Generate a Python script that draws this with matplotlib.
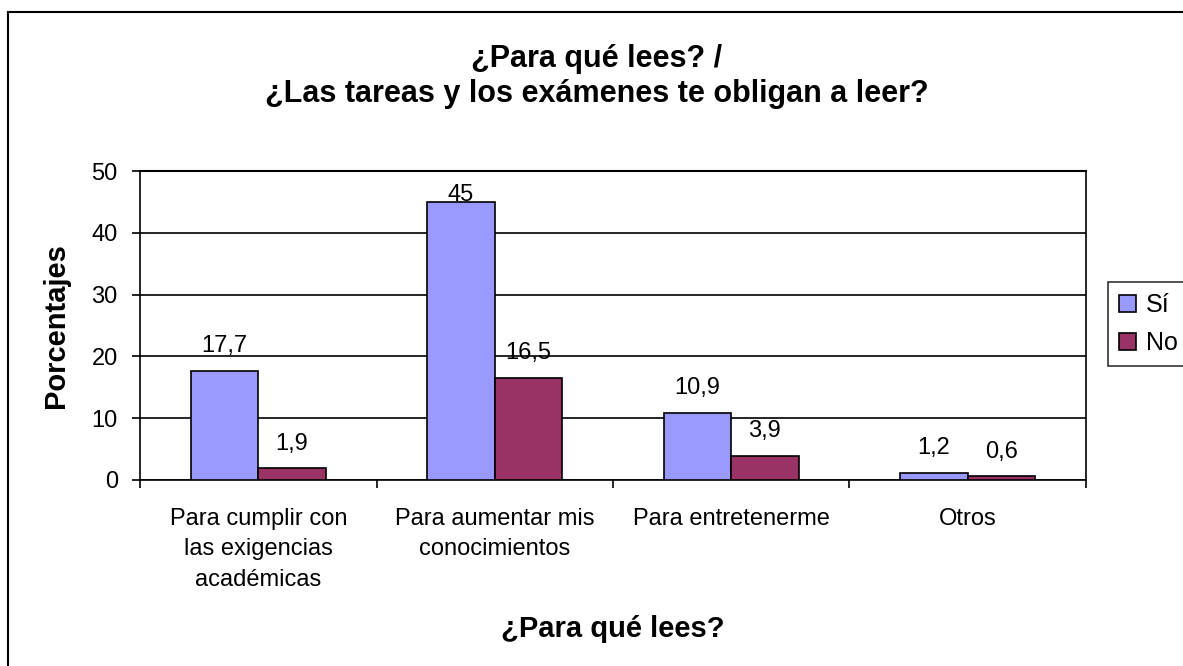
import numpy as np
import matplotlib
matplotlib.use('Agg')
import matplotlib.pyplot as plt
from matplotlib.patches import Rectangle

plt.rcParams['font.family'] = ['Liberation Sans', 'DejaVu Sans']

categories = [
    'Para cumplir con\nlas exigencias\nacadémicas',
    'Para aumentar mis\nconocimientos',
    'Para entretenerme',
    'Otros',
]
si_values = [17.7, 45, 10.9, 1.2]
no_values = [1.9, 16.5, 3.9, 0.6]
series_names = ['Sí', 'No']
colors = ['#9999FF', '#993366']

W, H = 1183, 666
fig = plt.figure(figsize=(W / 100, H / 100), dpi=100)
ax = fig.add_axes([140 / W, 1 - 480 / H, 946 / W, 309 / H])

x = np.arange(len(categories))
width = 0.285
ymax = 50
handles = []
for offset, vals, name, color in zip((-width / 2, width / 2), (si_values, no_values),
                                     series_names, colors):
    bars = ax.bar(x + offset, vals, width, color=color, edgecolor='black',
                  linewidth=1.2, label=name, zorder=3)
    handles.append(bars)
    for xi, v in zip(x + offset, vals):
        # value label above the bar, pushed down if it would leave the plot area
        y = min(v + 4.0, ymax - 3.9)
        txt = ('%g' % v).replace('.', ',')
        ax.text(xi, y, txt, ha='center', va='center', fontsize=17, zorder=4)

ax.set_xlim(-0.5, len(categories) - 0.5)
ax.set_ylim(0, ymax)
ax.set_yticks(range(0, ymax + 1, 10))
ax.yaxis.grid(True, color='black', linewidth=1.2, zorder=0)
ax.tick_params(axis='y', labelsize=17, length=6, width=1.2, direction='out', pad=10)

ax.set_xticks(x)
ax.set_xticklabels(categories, fontsize=17, linespacing=1.5)
ax.set_xticks(np.arange(-0.5, len(categories)), minor=True)
ax.tick_params(axis='x', which='major', length=0, pad=20)
ax.tick_params(axis='x', which='minor', length=6, width=1.2, direction='out')

for side in ('top', 'right', 'left', 'bottom'):
    ax.spines[side].set_linewidth(1.2)
    ax.spines[side].set_color('black')
ax.spines['top'].set_linewidth(1.5)

ax.set_ylabel('Porcentajes', fontsize=21, fontweight='bold')
ax.yaxis.set_label_coords(-(140 - 70) / 946, 0.5)
ax.set_xlabel('¿Para qué lees?', fontsize=21, fontweight='bold')
ax.xaxis.set_label_coords(0.5, 1 - (637 - 171) / 309)
ax.xaxis.label.set_va('baseline')

cx = 597 / W
fig.text(cx, 1 - 67 / H, '¿Para qué lees? /',
         ha='center', va='baseline', fontsize=22, fontweight='bold')
fig.text(cx, 1 - 102 / H, '¿Las tareas y los exámenes te obligan a leer?',
         ha='center', va='baseline', fontsize=22, fontweight='bold')

leg = fig.legend(handles=handles, labels=series_names, loc='upper left',
                 bbox_to_anchor=(1108 / W, 1 - 282 / H), fontsize=18,
                 frameon=True, fancybox=False, handlelength=0.65, handleheight=0.65,
                 handletextpad=0.4, borderpad=0.45, labelspacing=0.55,
                 borderaxespad=0)
leg.get_frame().set_edgecolor('black')
leg.get_frame().set_linewidth(1.2)

# outer chart border, running off the right and bottom edges
fig.patches.append(Rectangle((8 / W, -0.1), 1.2, 1 - 12 / H + 0.1,
                             transform=fig.transFigure, fill=False,
                             edgecolor='black', linewidth=1.5))

fig.savefig('out.png', dpi=100)
